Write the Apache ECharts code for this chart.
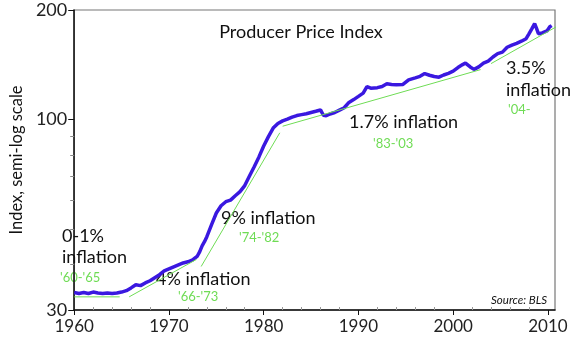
<!DOCTYPE html>
<html>
<head>
<meta charset="utf-8">
<script src="https://cdn.jsdelivr.net/npm/echarts@6/dist/echarts.min.js"></script>
<style>
  html, body { margin: 0; padding: 0; background: #fff; }
  #chart { width: 584px; height: 352px; }
</style>
</head>
<body>
<div id="chart"></div>
<script>
// PPI (semi-log)
var years = [
  1960, 1960.5, 1961, 1961.5, 1962, 1962.5, 1963, 1963.5, 1964, 1964.5,
  1965, 1965.5, 1966, 1966.5, 1967, 1967.5, 1968, 1968.5, 1969, 1969.5,
  1970, 1970.5, 1971, 1971.5, 1972, 1972.5, 1973, 1973.25, 1973.5, 1973.75,
  1974, 1974.5, 1975, 1975.5, 1976, 1976.5, 1977, 1977.5, 1978, 1978.5,
  1979, 1979.5, 1980, 1980.5, 1981, 1981.5, 1982, 1982.5, 1983, 1983.5,
  1984, 1984.5, 1985, 1985.5, 1986, 1986.3, 1986.6, 1987, 1987.5, 1988,
  1988.5, 1989, 1989.5, 1990, 1990.5, 1990.9, 1991.3, 1992, 1992.5, 1993,
  1993.5, 1994, 1994.7, 1995.3, 1996, 1996.5, 1997, 1997.5, 1998, 1998.5,
  1999, 1999.5, 2000, 2000.5, 2001, 2001.3, 2001.8, 2002.2, 2002.7, 2003.2,
  2003.7, 2004.2, 2004.7, 2005.2, 2005.7, 2006.2, 2006.7, 2007.2, 2007.7, 2008,
  2008.3, 2008.6, 2008.8, 2009, 2009.4, 2009.9, 2010.2, 2010.4
];
var ppi = [
  33.5, 33.3, 33.5, 33.3, 33.6, 33.4, 33.3, 33.4, 33.3, 33.4,
  33.6, 33.9, 34.5, 35.2, 35.0, 35.6, 36.1, 36.8, 37.5, 38.4,
  38.9, 39.4, 39.9, 40.4, 40.7, 41.2, 42.2, 43.4, 45.0, 46.2,
  47.7, 51.5, 55.4, 58.0, 59.5, 60.1, 61.8, 63.4, 65.9, 70.0,
  74.2, 79.0, 84.6, 89.8, 94.8, 97.6, 99.2, 100.3, 101.6, 102.6,
  103.2, 103.8, 104.6, 105.4, 106.3, 102.8, 102.5, 103.6, 104.6, 106.2,
  107.8, 111.5, 113.5, 115.8, 118.2, 123.2, 122.0, 122.4, 123.3, 125.4,
  124.9, 124.6, 124.9, 128.6, 130.2, 131.5, 133.8, 132.4, 131.3, 130.8,
  132.6, 134.0, 135.8, 139.0, 141.6, 143.0, 139.5, 137.4, 139.6, 142.9,
  144.8, 148.6, 151.8, 153.2, 158.0, 160.2, 162.0, 164.2, 166.8, 172.0,
  177.5, 183.5, 178.0, 172.2, 173.0, 175.2, 179.8, 181.2
];

// trend segments [year, index]
var trend6065 = [[1960, 32.6], [1964.8, 32.6]];
var trend6673 = [[1965.8, 32.6], [1972.9, 41.3]];
var trend7482 = [[1973.4, 39.5], [1981.7, 92.0]];
var trend8303 = [[1982.0, 95.9], [2002.9, 137.2]];
var trend04 = [[2004.0, 142.5], [2011.3, 182.4]];

var yLabels = [30, 100, 200];
var yMinor = [40, 50, 60, 70, 80, 90];
var xLabels = [1960, 1970, 1980, 1990, 2000, 2010];
var xMinor = [1962, 1964, 1966, 1968, 1972, 1974, 1976, 1978, 1982, 1984, 1986, 1988,
  1992, 1994, 1996, 1998, 2002, 2004, 2006, 2008];

var FONT = "Lato, 'DejaVu Sans', sans-serif";
var GREEN = "#6fdc55";

function pairs(xs, ys) {
  return xs.map(function (x, i) { return [x, ys[i]]; });
}
function trendSeries(data, noClip) {
  return {
    type: "line",
    data: data,
    symbol: "none",
    clip: !noClip,
    lineStyle: { color: GREEN, width: 1 },
    z: 5,
    silent: true
  };
}
function txt(text, x, y, size, color, align, italic) {
  return {
    type: "text",
    x: x,
    y: y,
    style: {
      text: text,
      fill: color || "#111",
      font: (italic ? "italic " : "") + size + "px " + FONT,
      textAlign: align || "left",
      align: align || "left",
      textVerticalAlign: "middle",
      verticalAlign: "middle"
    }
  };
}

var chart = echarts.init(document.getElementById("chart"), null, { renderer: "canvas" });
chart.setOption({
  animation: false,
  grid: {
    left: 54, right: 29, top: 10, bottom: 42,
    show: true, borderColor: "#777", borderWidth: 1.2
  },
  xAxis: [
    {
      type: "value", min: 1960, max: 2010.75,
      axisLine: { lineStyle: { color: "#111", width: 1.5 } },
      axisTick: { customValues: xLabels, length: 5, lineStyle: { color: "#111" } },
      axisLabel: {
        customValues: xLabels, color: "#222", fontSize: 17, fontFamily: FONT, margin: 8,
        formatter: function (v) { return String(Math.round(v)); }
      },
      splitLine: { show: false }
    },
    {
      type: "value", min: 1960, max: 2010.75, position: "bottom",
      axisLine: { show: false },
      axisTick: { customValues: xMinor, length: 3, inside: true, lineStyle: { color: "#999" } },
      axisLabel: { show: false },
      splitLine: { show: false }
    }
  ],
  yAxis: [
    {
      type: "log", logBase: 10, min: 30, max: 200,
      name: "Index, semi-log scale", nameLocation: "middle", nameGap: 37,
      nameTextStyle: { color: "#111", fontSize: 16.5, fontFamily: FONT },
      axisLine: { show: true, lineStyle: { color: "#111", width: 1.5 } },
      axisTick: { show: true, customValues: yLabels, length: 6, lineStyle: { color: "#111" } },
      axisLabel: {
        customValues: yLabels, color: "#222", fontSize: 18, fontFamily: FONT, margin: 7,
        formatter: function (v) { return String(Math.round(v)); }
      },
      splitLine: { show: false }
    },
    {
      type: "log", logBase: 10, min: 30, max: 200, position: "left",
      axisLine: { show: false },
      axisTick: { show: true, customValues: yMinor, length: 4, lineStyle: { color: "#888" } },
      axisLabel: { show: false },
      splitLine: { show: false }
    }
  ],
  series: [
    {
      type: "line",
      data: pairs(years, ppi),
      symbol: "none",
      lineStyle: { color: "#3a18e0", width: 3.5 },
      z: 3,
      silent: true
    },
    trendSeries(trend6065),
    trendSeries(trend6673),
    trendSeries(trend7482),
    trendSeries(trend8303),
    trendSeries(trend04, true)
  ],
  graphic: [
    txt("Producer Price Index", 301, 32, 18, "#111", "center"),
    txt("0-1%", 62, 236, 18),
    txt("inflation", 62, 257, 18),
    txt("'60-'65", 60, 278, 13, GREEN),
    txt("4% inflation", 156, 279, 18),
    txt("'66-'73", 178, 297, 13, GREEN),
    txt("9% inflation", 221, 218, 18),
    txt("'74-'82", 239, 238, 13, GREEN),
    txt("1.7% inflation", 349, 122, 18),
    txt("'83-'03", 373, 144, 13, GREEN),
    txt("3.5%", 506, 68, 18),
    txt("inflation", 506, 90, 18),
    txt("'04-", 508, 110, 13, GREEN),
    txt("Source: BLS", 547, 300, 11.5, "#111", "right", true)
  ]
});
</script>
</body>
</html>
